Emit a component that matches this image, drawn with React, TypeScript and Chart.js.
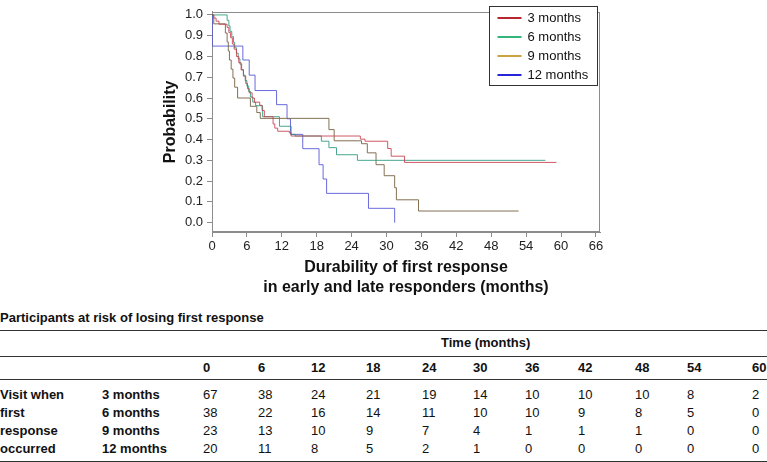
import React, { useEffect, useRef } from 'react';
import { Chart, registerables } from 'chart.js';

Chart.register(...registerables);

const FONT = '"Liberation Sans", Arial, Helvetica, sans-serif';

const seriesLabels = ['3 months', '6 months', '9 months', '12 months'];
const lineColors = ['rgba(200,60,75,0.85)', 'rgba(40,150,125,0.85)', 'rgba(125,105,75,0.95)', 'rgba(80,80,215,0.85)'];
const legendColors = ['#b8262f', '#35b57c', '#c9a242', '#2626d6'];

// Kaplan-Meier steps: time (months) and survival probability after the step
const t3 = [0, 0.3, 0.7, 1.2, 2.6, 2.9, 3.2, 3.5, 3.8, 4.2, 4.6, 5.0, 5.4, 5.8, 6.1, 6.4, 6.9, 7.3, 8.2, 8.6, 9.0, 10.5, 10.8, 11.3, 13.3, 13.6, 25.5, 26.3, 30.2, 30.8, 33.1, 59.2];
const s3 = [1.0, 0.985, 0.97, 0.955, 0.94, 0.915, 0.89, 0.86, 0.835, 0.8, 0.77, 0.735, 0.705, 0.67, 0.645, 0.625, 0.6, 0.58, 0.565, 0.54, 0.51, 0.475, 0.455, 0.44, 0.432, 0.417, 0.402, 0.392, 0.357, 0.32, 0.29, 0.29];

const t6 = [0, 2.6, 2.9, 3.1, 3.4, 3.7, 3.9, 4.2, 4.5, 4.8, 5.1, 5.4, 5.7, 6.0, 6.3, 6.6, 7.0, 7.5, 8.7, 11.6, 13.6, 14.3, 18.8, 20.1, 21.4, 25.0, 57.3];
const s6 = [1.0, 0.974, 0.947, 0.921, 0.895, 0.868, 0.842, 0.816, 0.789, 0.763, 0.737, 0.71, 0.684, 0.658, 0.632, 0.605, 0.58, 0.563, 0.51, 0.464, 0.425, 0.417, 0.392, 0.361, 0.327, 0.3, 0.3];

const t9 = [0, 0.3, 2.3, 2.6, 2.8, 3.0, 3.3, 3.6, 3.9, 4.4, 6.6, 7.7, 8.3, 20.1, 21.0, 25.7, 26.7, 28.2, 29.6, 31.4, 31.7, 35.5, 52.7];
const s9 = [1.0, 0.957, 0.913, 0.87, 0.826, 0.783, 0.739, 0.696, 0.652, 0.6, 0.56, 0.53, 0.502, 0.448, 0.394, 0.38, 0.336, 0.279, 0.226, 0.168, 0.11, 0.056, 0.056];

const t12 = [0, 0.05, 5.3, 6.4, 7.4, 11.1, 12.9, 13.5, 15.6, 18.4, 19.1, 19.7, 26.9, 31.4];
const s12 = [1.0, 0.85, 0.783, 0.71, 0.636, 0.568, 0.5, 0.425, 0.356, 0.279, 0.21, 0.141, 0.069, 0.0];

const seriesTimes = [t3, t6, t9, t12];
const seriesSurv = [s3, s6, s9, s12];

const xTicks = [0, 6, 12, 18, 24, 30, 36, 42, 48, 54, 60, 66];
const yTicks = [0, 0.1, 0.2, 0.3, 0.4, 0.5, 0.6, 0.7, 0.8, 0.9, 1.0];

// At-risk table
const riskTitle = 'Participants at risk of losing first response';
const riskTimes = [0, 6, 12, 18, 24, 30, 36, 42, 48, 54, 60];
const risk3 = [67, 38, 24, 21, 19, 14, 10, 10, 10, 8, 2];
const risk6 = [38, 22, 16, 14, 11, 10, 10, 9, 8, 5, 0];
const risk9 = [23, 13, 10, 9, 7, 4, 1, 1, 1, 0, 0];
const risk12 = [20, 11, 8, 5, 2, 1, 0, 0, 0, 0, 0];
const riskRows = [risk3, risk6, risk9, risk12];
const groupLabels = ['Visit when', 'first', 'response', 'occurred'];

const colX = [203, 258, 311, 366, 422, 473, 525, 578, 635, 687, 752];
const rowY = [395, 413, 431, 449];

const framePlugin = {
  id: 'frame',
  beforeDatasetsDraw(chart: any) {
    const { ctx, chartArea } = chart;
    ctx.save();
    ctx.strokeStyle = '#8c8c8c';
    ctx.lineWidth = 1;
    ctx.strokeRect(Math.round(chartArea.left) + 0.5, Math.round(chartArea.top) + 0.5,
      Math.round(chartArea.right - chartArea.left) - 1, Math.round(chartArea.bottom - chartArea.top) - 1);
    ctx.restore();
  },
};

const legendPlugin = {
  id: 'boxLegend',
  afterDraw(chart: any) {
    const { ctx } = chart;
    const left = 489.5, top = 6.5, w = 108, rowH = 19;
    const h = rowH * chart.data.datasets.length + 3;
    ctx.save();
    ctx.fillStyle = '#ffffff';
    ctx.fillRect(left, top, w, h);
    ctx.strokeStyle = '#333333';
    ctx.lineWidth = 1;
    ctx.strokeRect(left, top, w, h);
    ctx.font = `13px ${FONT}`;
    ctx.textBaseline = 'middle';
    ctx.textAlign = 'left';
    chart.data.datasets.forEach((ds: any, i: number) => {
      const y = top + 11.5 + i * rowH;
      ctx.strokeStyle = legendColors[i];
      ctx.lineWidth = 2;
      ctx.beginPath();
      ctx.moveTo(left + 8, y);
      ctx.lineTo(left + 32, y);
      ctx.stroke();
      ctx.fillStyle = '#111111';
      ctx.fillText(ds.label, left + 38, y);
    });
    ctx.restore();
  },
};

function KMChart() {
  const ref = useRef<HTMLCanvasElement>(null);
  useEffect(() => {
    if (!ref.current) return;
    const chart = new Chart(ref.current, {
      type: 'line',
      data: {
        datasets: seriesLabels.map((label, i) => ({
          label,
          data: seriesTimes[i].map((t, j) => ({ x: t, y: seriesSurv[i][j] })),
          borderColor: lineColors[i],
          backgroundColor: lineColors[i],
          borderWidth: 1,
          pointRadius: 0,
          stepped: 'before' as const,
          fill: false,
        })),
      },
      options: {
        animation: false,
        responsive: false,
        maintainAspectRatio: false,
        layout: { padding: { left: 157, right: 167, top: 2, bottom: 2 } },
        plugins: { legend: { display: false }, tooltip: { enabled: false } },
        scales: {
          x: {
            type: 'linear',
            min: 0,
            max: 66.7,
            afterBuildTicks: (s: any) => { s.ticks = xTicks.map((v) => ({ value: v })); },
            afterFit: (s: any) => { s.height = 66; },
            grid: { drawOnChartArea: false, drawTicks: true, tickLength: 5, color: '#8c8c8c' },
            border: { color: '#8c8c8c' },
            ticks: { font: { family: FONT, size: 13 }, color: '#222', padding: 2, maxRotation: 0, autoSkip: false, callback: (v: any) => String(v) },
            title: {
              display: true,
              text: ['Durability of first response', 'in early and late responders (months)'],
              font: { family: FONT, size: 16, weight: 'bold', lineHeight: 1.25 },
              color: '#111',
              padding: { top: 0, bottom: 0 },
            },
          },
          y: {
            type: 'linear',
            min: -0.045,
            max: 1.015,
            afterBuildTicks: (s: any) => { s.ticks = yTicks.map((v) => ({ value: v })); },
            afterFit: (s: any) => { s.width = 55; },
            grid: { drawOnChartArea: false, drawTicks: true, tickLength: 5, color: '#8c8c8c' },
            border: { color: '#8c8c8c' },
            ticks: { font: { family: FONT, size: 13 }, color: '#222', padding: 4, callback: (v: any) => Number(v).toFixed(1) },
            title: {
              display: true,
              text: 'Probability',
              font: { family: FONT, size: 16, weight: 'bold' },
              color: '#111',
              padding: { top: 4, bottom: 0 },
            },
          },
        },
      },
      plugins: [framePlugin, legendPlugin],
    });
    return () => chart.destroy();
  }, []);
  return <canvas ref={ref} width={767} height={300} style={{ position: 'absolute', left: 0, top: 0, width: 767, height: 300 }} />;
}

const txt = (content: string | number, x: number, y: number, bold = false, key?: string) => (
  <div key={key} style={{ position: 'absolute', left: x, top: y - 8, lineHeight: '16px', fontSize: 13, fontFamily: FONT, fontWeight: bold ? 'bold' : 'normal', color: '#111', whiteSpace: 'nowrap' }}>{content}</div>
);

const rule = (y: number, key: string) => (
  <div key={key} style={{ position: 'absolute', left: 0, top: y, width: 767, height: 1, background: '#333' }} />
);

export default function App() {
  return (
    <div style={{ position: 'absolute', left: 0, top: 0, width: 767, height: 462, background: '#fff', overflow: 'hidden' }}>
      <KMChart />
      {txt(riskTitle, 0, 318, true, 'title')}
      {rule(330, 'r1')}
      {txt('Time (months)', 441, 343, true, 'time')}
      {rule(356, 'r2')}
      {riskTimes.map((t, i) => txt(t, colX[i], 368, true, 'h' + i))}
      {rule(379, 'r3')}
      {groupLabels.map((g, r) => txt(g, 0, rowY[r], true, 'g' + r))}
      {seriesLabels.map((s, r) => txt(s, 102, rowY[r], true, 's' + r))}
      {riskRows.map((row, r) => row.map((v, i) => txt(v, colX[i], rowY[r], false, `c${r}_${i}`)))}
      {rule(461, 'r4')}
    </div>
  );
}
